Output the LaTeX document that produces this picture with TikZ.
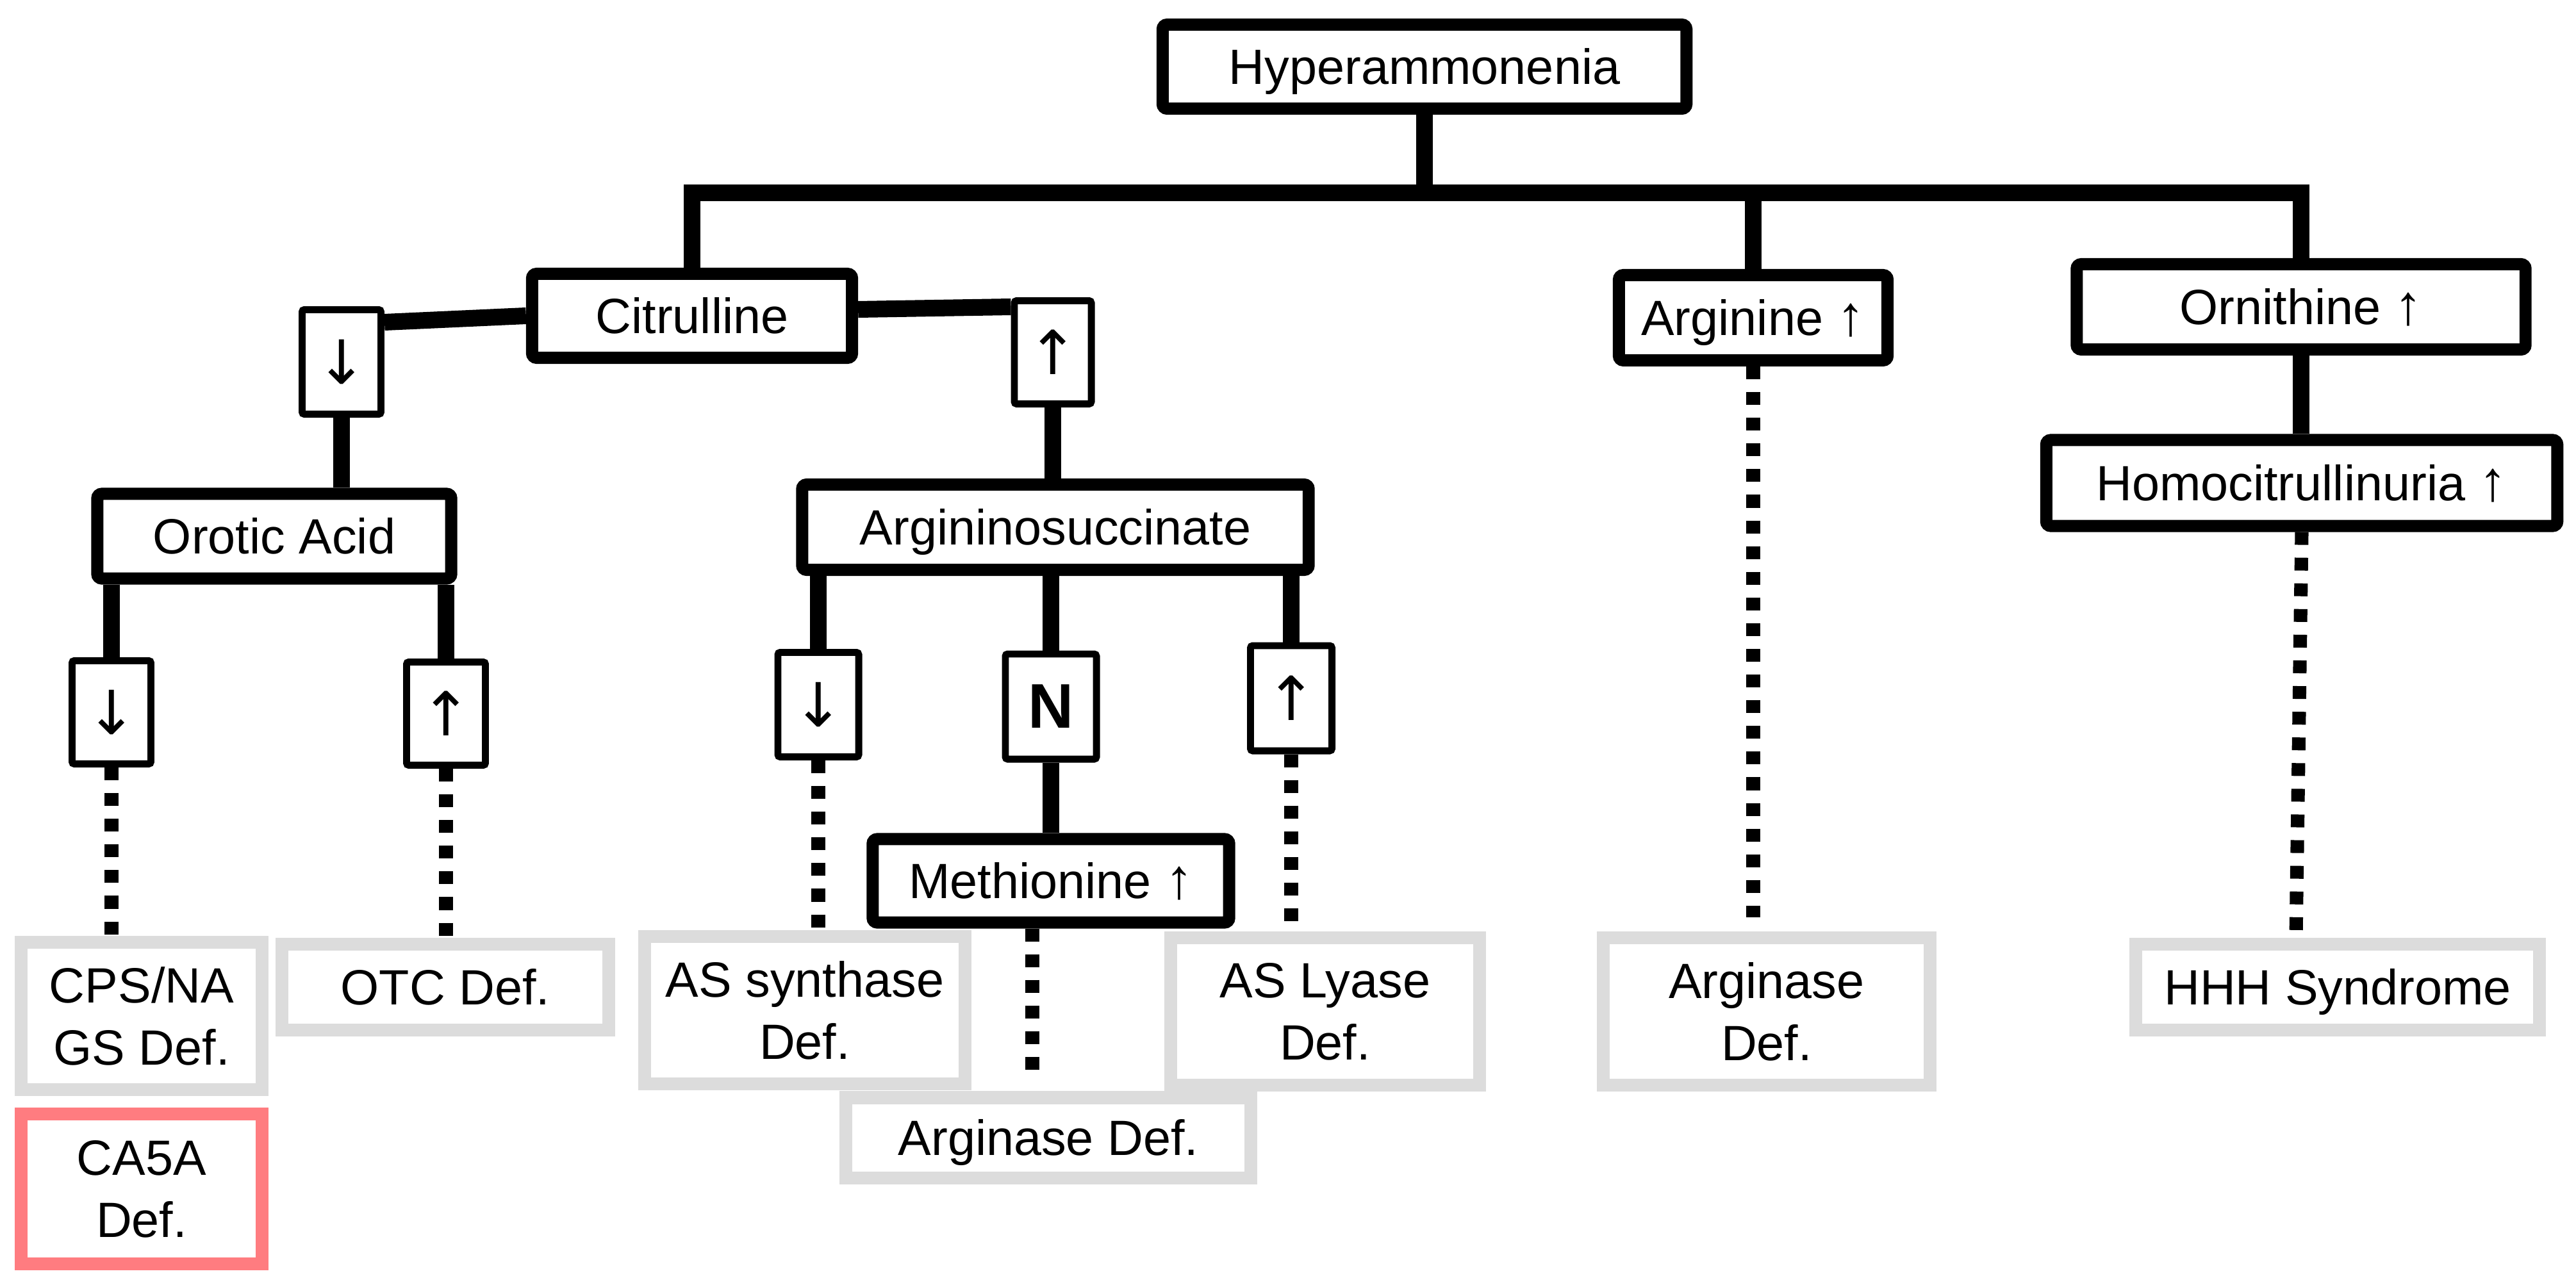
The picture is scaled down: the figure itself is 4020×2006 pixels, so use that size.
\documentclass[tikz,border=0pt]{standalone}
\usepackage{fontspec}
\setmainfont{Liberation Sans}
\newfontfamily\arrowfont{DejaVu Sans}
\usetikzlibrary{calc}
\pgfdeclarelayer{background}
\pgfsetlayers{background,main}
\definecolor{grayb}{HTML}{DCDCDC}
\definecolor{pinkb}{HTML}{FF7C80}
\newcommand\inup{{\fontsize{25pt}{25pt}\selectfont ↑}}
\newcommand\boxup{{\arrowfont\fontsize{27pt}{27pt}\selectfont ↑}}
\newcommand\boxdown{{\arrowfont\fontsize{27pt}{27pt}\selectfont ↓}}
\begin{document}
\begin{tikzpicture}[x=0.01cm,y=-0.01cm,
  every node/.style={font=\fontsize{22pt}{27.6pt}\selectfont, inner sep=0pt},
  oneline/.style={text height=15.8pt, text depth=0pt},
  mainbox/.style={draw=black, line width=5.4pt, fill=white, rounded corners=2pt, oneline},
  arrbox/.style={draw=black, line width=3.1pt, fill=white, rounded corners=1pt},
  defbox/.style={draw=grayb, line width=5.7pt, fill=white, align=center},
  conn/.style={line width=7.4pt},
  dconn/.style={line width=6pt, dash pattern=on 5.7pt off 5.7pt},
]
\useasboundingbox (0,0) rectangle (4020,2006);

% main boxes
\node[mainbox, minimum width=8.17cm, minimum height=1.31cm] (hyper) at (2223,104) {Hyperammonenia};
\node[mainbox, minimum width=4.99cm, minimum height=1.31cm] (cit) at (1080,493) {Citrulline};
\node[mainbox, minimum width=4.19cm, minimum height=1.33cm] (arg) at (2736,496) {Arginine \inup};
\node[mainbox, minimum width=7.00cm, minimum height=1.33cm] (orn) at (3591,479) {Ornithine \inup};
\node[mainbox, minimum width=7.97cm, minimum height=1.34cm] (hom) at (3592,754) {Homocitrullinuria \inup};
\node[mainbox, minimum width=5.52cm, minimum height=1.32cm] (oro) at (428,837) {Orotic Acid};
\node[mainbox, minimum width=7.90cm, minimum height=1.33cm] (asu) at (1647,823) {Argininosuccinate};
\node[mainbox, minimum width=5.56cm, minimum height=1.30cm] (met) at (1640,1375) {Methionine \inup};

% arrow boxes
\node[arrbox, minimum width=1.23cm, minimum height=1.63cm] (a1) at (533,565) {\boxdown};
\node[arrbox, minimum width=1.20cm, minimum height=1.61cm] (a2) at (1643,550) {\boxup};
\node[arrbox, minimum width=1.23cm, minimum height=1.61cm] (a3) at (174,1112) {\boxdown};
\node[arrbox, minimum width=1.23cm, minimum height=1.61cm] (a4) at (696,1114) {\boxup};
\node[arrbox, minimum width=1.26cm, minimum height=1.63cm] (a5) at (1277,1100) {\boxdown};
\node[arrbox, minimum width=1.42cm, minimum height=1.64cm, font=\fontsize{28pt}{28pt}\selectfont\bfseries] (a6) at (1640,1103) {N};
\node[arrbox, minimum width=1.27cm, minimum height=1.64cm] (a7) at (2015,1090) {\boxup};

% deficiency boxes
\node[defbox, minimum width=6.32cm, minimum height=1.25cm, oneline] (g5) at (1636,1776) {Arginase Def.};
\node[defbox, minimum width=3.75cm, minimum height=2.29cm] (g1) at (221,1586) {CPS/NA\\GS Def.};
\node[defbox, draw=pinkb, minimum width=3.75cm, minimum height=2.34cm] (g2) at (221,1856) {CA5A\\Def.};
\node[defbox, minimum width=5.09cm, minimum height=1.34cm, oneline] (g3) at (695,1541) {OTC Def.};
\node[defbox, minimum width=5.00cm, minimum height=2.30cm] (g4) at (1256,1577) {AS synthase\\Def.};
\node[defbox, minimum width=4.82cm, minimum height=2.30cm] (g6) at (2068,1579) {AS Lyase\\Def.};
\node[defbox, minimum width=5.10cm, minimum height=2.30cm] (g7) at (2757,1579) {Arginase\\Def.};
\node[defbox, minimum width=6.29cm, minimum height=1.34cm, oneline] (g8) at (3648,1541) {HHH Syndrome};

% connectors (behind boxes)
\begin{pgfonlayer}{background}
\coordinate (bus) at (2223,301);
\draw[conn] (hyper.south) -- (bus);
\draw[conn] (cit.north) |- (bus) -| (orn.north);
\draw[conn] (arg.north) -- (arg.north |- bus);
\draw[conn] (cit.west) -- ($(a1.north east)+(0,25)$);
\draw[conn] ($(cit.east)+(0,-10)$) -- ($(a2.north west)+(0,15)$);
\draw[conn] (a1.south) -- (a1.south |- oro.north);
\draw[conn] (a2.south) -- (a2.south |- asu.north);
\draw[conn] (a3.north) -- (a3.north |- oro.south);
\draw[conn] (a4.north) -- (a4.north |- oro.south);
\draw[conn] (a5.north) -- (a5.north |- asu.south);
\draw[conn] (a6.north) -- (a6.north |- asu.south);
\draw[conn] (a7.north) -- (a7.north |- asu.south);
\draw[conn] (a6.south) -- (a6.south |- met.north);
\draw[conn] (orn.south) -- (orn.south |- hom.north);
\draw[dconn] (a3.south) -- (a3.south |- g1.north);
\draw[dconn] (a4.south) -- (a4.south |- g3.north);
\draw[dconn] (a5.south) -- (a5.south |- g4.north);
\draw[dconn] (a7.south) -- (a7.south |- g6.north);
\draw[dconn] ($(met.south)+(-29,0)$) -- ($(met.south |- g5.north)+(-29,-25)$);
\draw[dconn] (arg.south) -- ($(arg.south |- g7.north)+(0,-22)$);
\draw[dconn] (hom.south) -- ($(g8.north)+(-65,0)$);
\end{pgfonlayer}
\end{tikzpicture}
\end{document}
